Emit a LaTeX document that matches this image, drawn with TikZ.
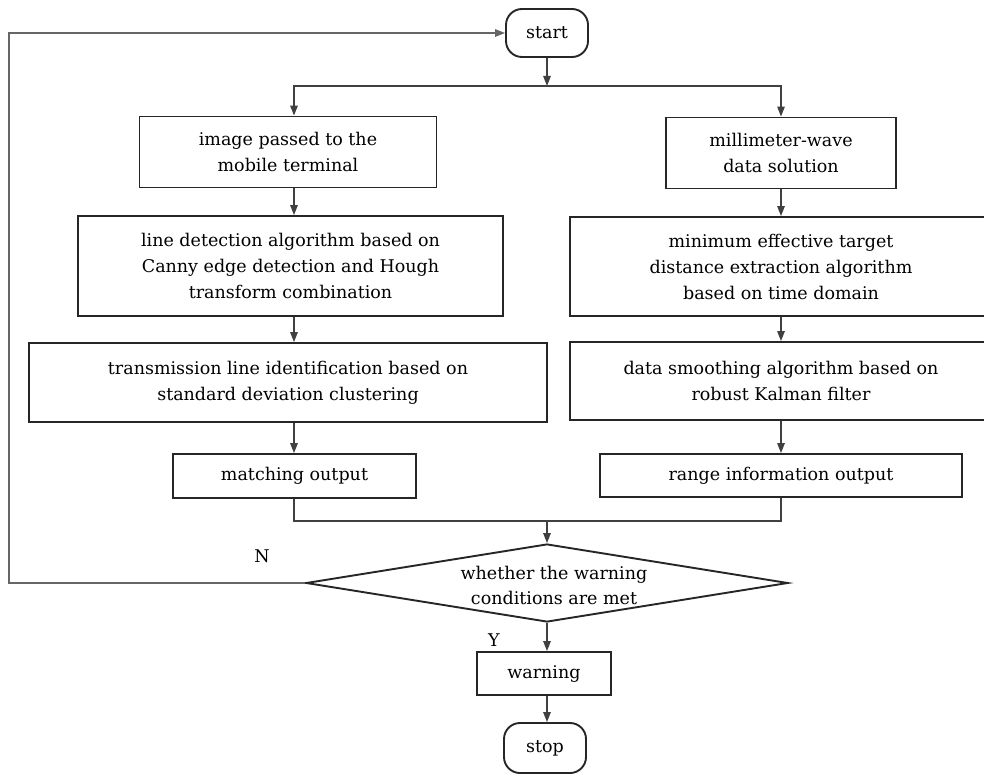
\documentclass[tikz,border=0pt]{standalone}
\usepackage{fontspec}
\setmainfont{DejaVu Serif}
\usetikzlibrary{arrows.meta,shapes.geometric}
\begin{document}
\begin{tikzpicture}[x=1pt,y=-1pt,
  box/.style={draw=black!85, line width=1.9pt, inner sep=0pt, align=center, font=\fontsize{17.5}{26}\selectfont},
  term/.style={box, rounded corners=16pt},
  conn/.style={draw=black!75, line width=1.3pt},
  arr/.style={conn, -{Triangle[length=10pt,width=7.5pt]}},
  lbl/.style={font=\fontsize{17.5}{21}\selectfont, inner sep=0pt}]
\useasboundingbox (0,0) rectangle (984,775);
\clip (0,0) rectangle (984,775);
\fill[white] (0,0) rectangle (984,775);
% nodes
\node[term, minimum width=82pt, minimum height=48pt] (start) at (547,33) {start};
\node[box, minimum width=297pt, minimum height=71pt] (L1) at (288,152) {image passed to the\\mobile terminal};
\node[box, minimum width=230pt, minimum height=71pt] (R1) at (781,153) {millimeter-wave\\data solution};
\node[box, minimum width=425pt, minimum height=100pt] (L2) at (290.5,266) {line detection algorithm based on\\Canny edge detection and Hough\\transform combination};
\node[box, minimum width=422pt, minimum height=99pt] (R2) at (781,266.5) {minimum effective target\\distance extraction algorithm\\based on time domain};
\node[box, minimum width=518pt, minimum height=79pt] (L3) at (288,382.5) {transmission line identification based on\\standard deviation clustering};
\node[box, minimum width=422pt, minimum height=78pt] (R3) at (781,381) {data smoothing algorithm based on\\robust Kalman filter};
\node[box, minimum width=243pt, minimum height=44pt] (L4) at (294.5,476) {matching output};
\node[box, minimum width=362pt, minimum height=43pt] (R4) at (781,475.5) {range information output};
\node[draw=black!85, line width=1.9pt, diamond, minimum width=482pt, minimum height=78pt, inner sep=0pt] (D) at (547,583) {};
\node[lbl, align=center, font=\fontsize{17.5}{25}\selectfont] (Dt) at (554,585) {whether the warning\\conditions are met};
\node[box, minimum width=134pt, minimum height=43pt] (W) at (544,673.5) {warning};
\node[term, minimum width=82pt, minimum height=50pt] (stop) at (545,748) {stop};
\node[lbl] (N) at (262,556) {N};
\node[lbl] (Y) at (494,640) {Y};
% helper coordinates
\coordinate (colL) at (294,0);
\coordinate (colR) at (781,0);
\coordinate (colC) at (547,0);
\coordinate (split) at (547,86);
\coordinate (merge) at (547,521);
\coordinate (loop) at (9,0);
% connectors
\draw[arr] (start.south -| colC) -- (split);
\draw[arr] (split) -| (L1.north -| colL);
\draw[arr] (split) -| (R1.north -| colR);
\draw[arr] (L1.south -| colL) -- (L2.north -| colL);
\draw[arr] (L2.south -| colL) -- (L3.north -| colL);
\draw[arr] (L3.south -| colL) -- (L4.north -| colL);
\draw[arr] (R1.south -| colR) -- (R2.north -| colR);
\draw[arr] (R2.south -| colR) -- (R3.north -| colR);
\draw[arr] (R3.south -| colR) -- (R4.north -| colR);
\draw[conn] (L4.south -| colL) |- (merge) -| (R4.south -| colR);
\draw[arr] (merge) -- (D.north);
\draw[arr, draw=black!60] (D.west) -| (loop |- start.west) -- (start.west);
\draw[arr] (D.south) -- (D.south |- W.north);
\draw[arr] (W.south -| colC) -- (stop.north -| colC);
\end{tikzpicture}
\end{document}
